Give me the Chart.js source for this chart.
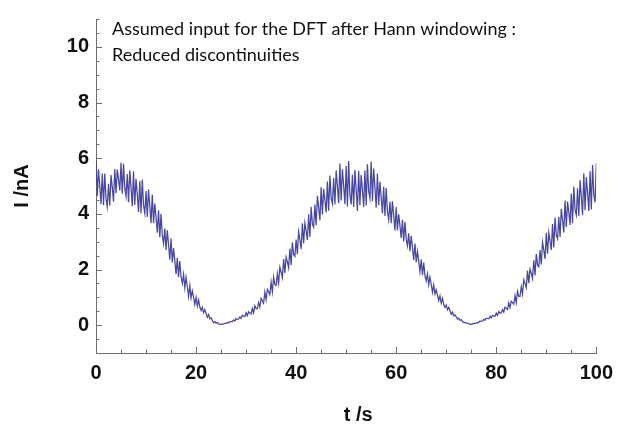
<!DOCTYPE html>
<html><head><meta charset="utf-8">
<script src="https://cdn.jsdelivr.net/npm/chart.js@4"></script>
<style>html,body{margin:0;padding:0;background:#fff}</style>
</head><body>
<canvas id="c" width="621" height="439"></canvas>
<script>
// ---- data ----
const sampleStep = 0.25; // seconds between samples, first sample at t = 0
const current = [
 5.90,4.64,5.60,5.01,4.35, 5.45,4.31,5.45,4.55,4.25, 5.08,4.29,5.39,4.95,4.44, 5.61,4.74,5.59,5.24,4.84,
 5.83,4.72,5.80,4.93,4.63, 5.43,4.42,5.56,4.95,4.27, 5.53,4.32,5.26,4.70,4.07, 5.18,4.02,5.23,4.31,4.02,
 4.82,3.89,4.87,4.29,3.66, 4.69,3.66,4.37,3.87,3.32, 4.13,3.16,4.00,3.23,2.93, 3.47,2.70,3.41,2.90,2.35,
 3.12,2.25,2.77,2.32,1.83, 2.42,1.72,2.30,1.73,1.50, 1.83,1.34,1.72,1.39,1.03, 1.43,0.98,1.23,1.00,0.74,
 1.00,0.69,0.91,0.65,0.53, 0.64,0.45,0.56,0.42,0.28, 0.38,0.23,0.27,0.18,0.09, 0.13,0.07,0.10,0.05,0.02,
 0.04,0.03,0.05,0.06,0.06, 0.10,0.08,0.13,0.13,0.13, 0.19,0.15,0.24,0.21,0.22, 0.30,0.24,0.36,0.33,0.30,
 0.45,0.34,0.48,0.44,0.40, 0.60,0.44,0.70,0.59,0.59, 0.81,0.65,0.96,0.88,0.79, 1.19,0.92,1.28,1.20,1.10,
 1.55,1.19,1.73,1.46,1.43, 1.85,1.51,2.08,1.91,1.71, 2.38,1.88,2.44,2.27,2.06, 2.75,2.16,2.98,2.54,2.47,
 3.08,2.55,3.36,3.07,2.73, 3.66,2.94,3.67,3.39,3.06, 3.98,3.17,4.25,3.63,3.52, 4.33,3.59,4.65,4.23,3.77,
 4.96,3.98,4.90,4.50,4.05, 5.16,4.11,5.38,4.56,4.36, 5.29,4.34,5.56,5.00,4.38, 5.81,4.48,5.60,5.01,4.35,
 5.72,4.26,5.90,4.68,4.34, 5.40,4.25,5.57,4.87,4.10, 5.55,4.31,5.39,4.86,4.25, 5.56,4.30,5.78,4.81,4.56,
 5.88,4.45,5.63,4.96,4.22, 5.45,4.31,5.15,4.61,4.01, 4.97,3.92,4.93,4.09,3.79, 4.44,3.66,4.45,3.95,3.40,
 4.24,3.41,3.98,3.58,3.13, 3.79,3.01,3.71,3.09,2.85, 3.30,2.66,3.21,2.79,2.34, 2.93,2.26,2.65,2.30,1.92,
 2.37,1.80,2.25,1.78,1.59, 1.84,1.45,1.73,1.47,1.18, 1.45,1.12,1.27,1.08,0.88, 1.05,0.79,0.96,0.74,0.64,
 0.72,0.55,0.64,0.52,0.39, 0.47,0.34,0.37,0.30,0.22, 0.25,0.17,0.20,0.13,0.09, 0.10,0.07,0.07,0.05,0.02,
 0.04,0.04,0.06,0.06,0.07, 0.10,0.09,0.15,0.14,0.15, 0.20,0.18,0.25,0.24,0.23, 0.32,0.26,0.35,0.33,0.32,
 0.43,0.35,0.49,0.43,0.44, 0.56,0.47,0.65,0.61,0.56, 0.80,0.63,0.86,0.81,0.75, 1.06,0.81,1.22,1.04,1.03,
 1.38,1.12,1.63,1.50,1.35, 1.96,1.51,2.02,1.87,1.68, 2.33,1.79,2.56,2.16,2.10, 2.70,2.18,2.98,2.70,2.38,
 3.32,2.57,3.33,3.03,2.70, 3.63,2.79,3.87,3.23,3.10, 3.89,3.17,4.18,3.78,3.33, 4.48,3.53,4.44,4.05,3.60,
 4.73,3.66,4.98,4.15,3.96, 4.92,3.92,5.21,4.62,3.96, 5.46,4.13,5.32,4.75,4.10, 5.53,4.16,5.75,4.69,4.41,
 5.80
];
const xTickLabels = [0, 20, 40, 60, 80, 100];
const yTickLabels = [0, 2, 4, 6, 8, 10];
const xRange = [0, 100];
const yRange = [-1, 11];
const xTitle = "t /s";
const yTitle = "I /nA";
const annotationLines = ["Assumed input for the DFT after Hann windowing :", "Reduced discontinuities"];

// ---- chart ----
const points = current.map((v, i) => ({ x: i * sampleStep, y: v }));
const axisGray = '#6e6e6e';

const inwardTicks = {
  id: 'inwardTicks',
  afterDraw(chart) {
    const { ctx, chartArea: a, scales: { x, y } } = chart;
    ctx.save();
    ctx.strokeStyle = axisGray;
    ctx.lineWidth = 1;
    ctx.beginPath();
    for (let v = xRange[0]; v <= xRange[1] + 1e-9; v += 5) {
      const px = Math.round(x.getPixelForValue(v)) + 0.5;
      const L = xTickLabels.includes(v) ? 6 : 3.5;
      ctx.moveTo(px, a.bottom); ctx.lineTo(px, a.bottom - L);
    }
    for (let k = yRange[0] * 2; k <= yRange[1] * 2; k++) {
      const v = k / 2;
      const py = Math.round(y.getPixelForValue(v)) + 0.5;
      const L = yTickLabels.includes(v) ? 6 : 3.5;
      ctx.moveTo(a.left, py); ctx.lineTo(a.left + L, py);
    }
    ctx.stroke();
    // x-axis title
    ctx.fillStyle = '#111';
    ctx.font = 'bold 20px "Liberation Sans"';
    ctx.textAlign = 'center';
    ctx.textBaseline = 'middle';
    ctx.fillText(xTitle, (a.left + a.right) / 2 + 12, 415);
    // annotation text
    ctx.font = '18px Lato';
    ctx.textBaseline = 'alphabetic';
    ctx.textAlign = 'left';
    ctx.fillText(annotationLines[0], 112, 34.5);
    ctx.fillText(annotationLines[1], 112, 60.5);
    ctx.restore();
  }
};

new Chart(document.getElementById('c'), {
  type: 'line',
  data: {
    datasets: [{
      data: points,
      borderColor: 'rgba(55,55,155,0.92)',
      borderWidth: 1.25,
      pointRadius: 0,
      tension: 0,
      fill: false
    }]
  },
  options: {
    responsive: false,
    animation: false,
    layout: { padding: { top: 14, right: 21, left: 0, bottom: 0 } },
    plugins: { legend: { display: false }, tooltip: { enabled: false } },
    scales: {
      x: {
        type: 'linear', min: xRange[0], max: xRange[1],
        afterBuildTicks: s => { s.ticks = xTickLabels.map(v => ({ value: v })); },
        afterFit: s => { s.height = 86; },
        grid: { display: false, drawTicks: false },
        border: { display: true, color: axisGray, width: 1 },
        ticks: { padding: 8, color: '#111', font: { family: 'Liberation Sans', weight: 'bold', size: 20 }, maxRotation: 0 },
        title: { display: false, text: xTitle }
      },
      y: {
        type: 'linear', min: yRange[0], max: yRange[1],
        afterBuildTicks: s => { s.ticks = yTickLabels.map(v => ({ value: v })); },
        afterFit: s => { s.width = 96; },
        grid: { display: false, drawTicks: false },
        border: { display: true, color: axisGray, width: 1 },
        ticks: { padding: 7, color: '#111', font: { family: 'Liberation Sans', weight: 'bold', size: 20 } },
        title: { display: true, text: yTitle, color: '#111', font: { family: 'Liberation Sans', weight: 'bold', size: 20 }, padding: { top: 10, bottom: 0 } }
      }
    }
  },
  plugins: [inwardTicks]
});
</script>
</body></html>
